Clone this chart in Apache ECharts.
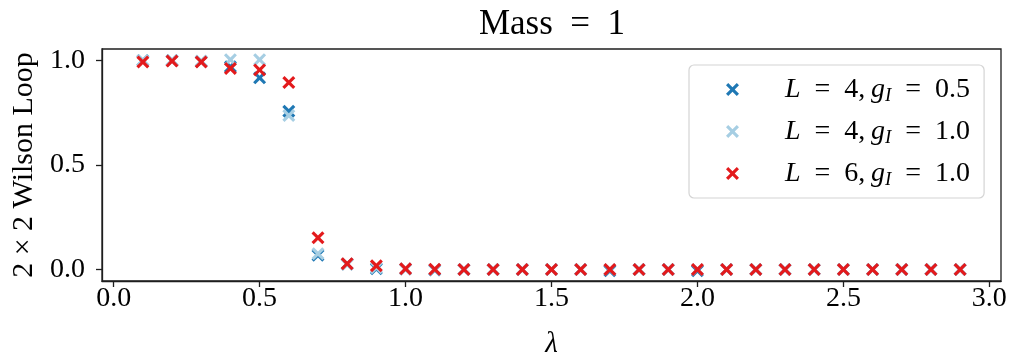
<!DOCTYPE html>
<html>
<head>
<meta charset="utf-8">
<script src="https://cdn.jsdelivr.net/npm/echarts@6/dist/echarts.min.js"></script>
<style>
  html, body { margin: 0; padding: 0; background: #fff; }
  #chart { width: 1013px; height: 357px; }
</style>
</head>
<body>
<div id="chart"></div>
<script>
// Coupling values lambda on the horizontal axis
const lambdas = [0.1, 0.2, 0.3, 0.4, 0.5, 0.6, 0.7, 0.8, 0.9, 1.0,
                 1.1, 1.2, 1.3, 1.4, 1.5, 1.6, 1.7, 1.8, 1.9, 2.0,
                 2.1, 2.2, 2.3, 2.4, 2.5, 2.6, 2.7, 2.8, 2.9];

// 2x2 Wilson loop expectation for each lattice / coupling
const wilsonL4g05 = [1.0, 1.0, 0.995, 0.97, 0.917, 0.757, 0.068, 0.026, 0.004, 0.002,
                     -0.002, 0.0, 0.0, 0.0, 0.0, 0.0, -0.006, 0.0, 0.0, -0.006,
                     0.0, 0.0, 0.0, 0.0, 0.0, 0.0, 0.0, 0.0, 0.0];
const wilsonL4g10 = [1.0, 1.0, 0.998, 1.004, 1.004, 0.737, 0.075, 0.024, 0.008, 0.002,
                     0.0, 0.0, 0.0, 0.0, 0.0, 0.0, 0.0, 0.0, 0.0, 0.0,
                     0.0, 0.0, 0.0, 0.0, 0.0, 0.0, 0.0, 0.0, 0.0];
const wilsonL6g10 = [0.993, 0.997, 0.993, 0.962, 0.955, 0.895, 0.152, 0.028, 0.018, 0.004,
                     0.001, 0.0, 0.0, 0.0, 0.0, 0.0, 0.0, 0.0, 0.0, 0.0,
                     0.0, 0.0, 0.0, 0.0, 0.0, 0.0, 0.0, 0.0, 0.0];

const seriesNames = ['L4g05', 'L4g10', 'L6g10'];
const legendParts = {           // [L, g_I] shown in the legend
  L4g05: ['4', '0.5'],
  L4g10: ['4', '1.0'],
  L6g10: ['6', '1.0']
};
const xTicks = [0, 0.5, 1.0, 1.5, 2.0, 2.5, 3.0];
const yTicks = [0, 0.5, 1.0];

const SERIF = "'Liberation Serif', 'DejaVu Serif', serif";
const CROSS = 'path://M0,1.7L1.7,0L5,3.3L8.3,0L10,1.7L6.7,5L10,8.3L8.3,10L5,6.7L1.7,10L0,8.3L3.3,5Z';
const FRAME = '#1e1e1e';
const EN = '\u2002';

function pairs(ys) { return lambdas.map((x, i) => [x, ys[i]]); }

function scatter(name, ys, color) {
  return {
    name: name,
    type: 'scatter',
    data: pairs(ys),
    symbol: CROSS,
    symbolSize: 13,
    itemStyle: { color: color, opacity: 1 },
    emphasis: { disabled: true },
    animation: false
  };
}

const chart = echarts.init(document.getElementById('chart'), null, { renderer: 'canvas' });

chart.setOption({
  backgroundColor: '#fff',
  animation: false,
  title: {
    text: 'Mass' + EN + '=' + EN + '1',
    left: 547,
    textAlign: 'center',
    top: 2,
    textStyle: { fontFamily: SERIF, fontSize: 35, fontWeight: 'normal', color: '#000' }
  },
  grid: {
    left: 102, right: 12, top: 49, bottom: 76,
    outerBoundsMode: 'none',
    containLabel: false,
    show: true, borderColor: FRAME, borderWidth: 1.3, backgroundColor: 'transparent'
  },
  legend: {
    orient: 'vertical',
    left: 689, top: 65,
    padding: [9, 14, 9, 37],
    itemGap: 11,
    itemWidth: 13, itemHeight: 13,
    backgroundColor: '#fff',
    borderColor: '#d4d4d4', borderWidth: 1.2, borderRadius: 5,
    data: seriesNames,
    formatter: function (name) {
      const p = legendParts[name];
      return '{gap|}{it|L}' + EN + '=' + EN + p[0] + ',\u2009{it|g}{sub|I}' + EN + '=' + EN + p[1];
    },
    textStyle: {
      fontFamily: SERIF, fontSize: 28, color: '#000', lineHeight: 31,
      rich: {
        gap: { width: 41 },
        it: { fontFamily: SERIF, fontSize: 28, fontStyle: 'italic', color: '#000', lineHeight: 31 },
        sub: { fontFamily: SERIF, fontSize: 19, fontStyle: 'italic', color: '#000', lineHeight: 21, verticalAlign: 'bottom' }
      }
    }
  },
  xAxis: {
    type: 'value',
    min: -0.04, max: 3.04,
    name: 'λ',
    nameLocation: 'middle',
    nameGap: 49,
    nameTextStyle: { fontFamily: SERIF, fontSize: 29, fontStyle: 'italic', color: '#000' },
    axisLine: { show: true, onZero: false, lineStyle: { color: FRAME, width: 1.3 } },
    axisTick: { show: true, inside: false, length: 6, customValues: xTicks, lineStyle: { color: FRAME, width: 1.3 } },
    axisLabel: {
      customValues: xTicks, margin: 4,
      formatter: v => v.toFixed(1),
      fontFamily: SERIF, fontSize: 28, color: '#000'
    },
    splitLine: { show: false }
  },
  yAxis: {
    type: 'value',
    min: -0.055, max: 1.055,
    name: '2 × 2 Wilson Loop',
    nameLocation: 'middle',
    nameRotate: 90,
    nameGap: 60,
    nameTextStyle: { fontFamily: SERIF, fontSize: 30, color: '#000' },
    axisLine: { show: true, onZero: false, lineStyle: { color: FRAME, width: 1.3 } },
    axisTick: { show: true, inside: false, length: 6, customValues: yTicks, lineStyle: { color: FRAME, width: 1.3 } },
    axisLabel: {
      customValues: yTicks, margin: 17,
      formatter: v => v.toFixed(1),
      fontFamily: SERIF, fontSize: 28, color: '#000'
    },
    splitLine: { show: false }
  },
  series: [
    scatter('L4g05', wilsonL4g05, '#1f78b4'),
    scatter('L4g10', wilsonL4g10, '#a6cee3'),
    scatter('L6g10', wilsonL6g10, '#e31a1c')
  ]
});
</script>
</body>
</html>
